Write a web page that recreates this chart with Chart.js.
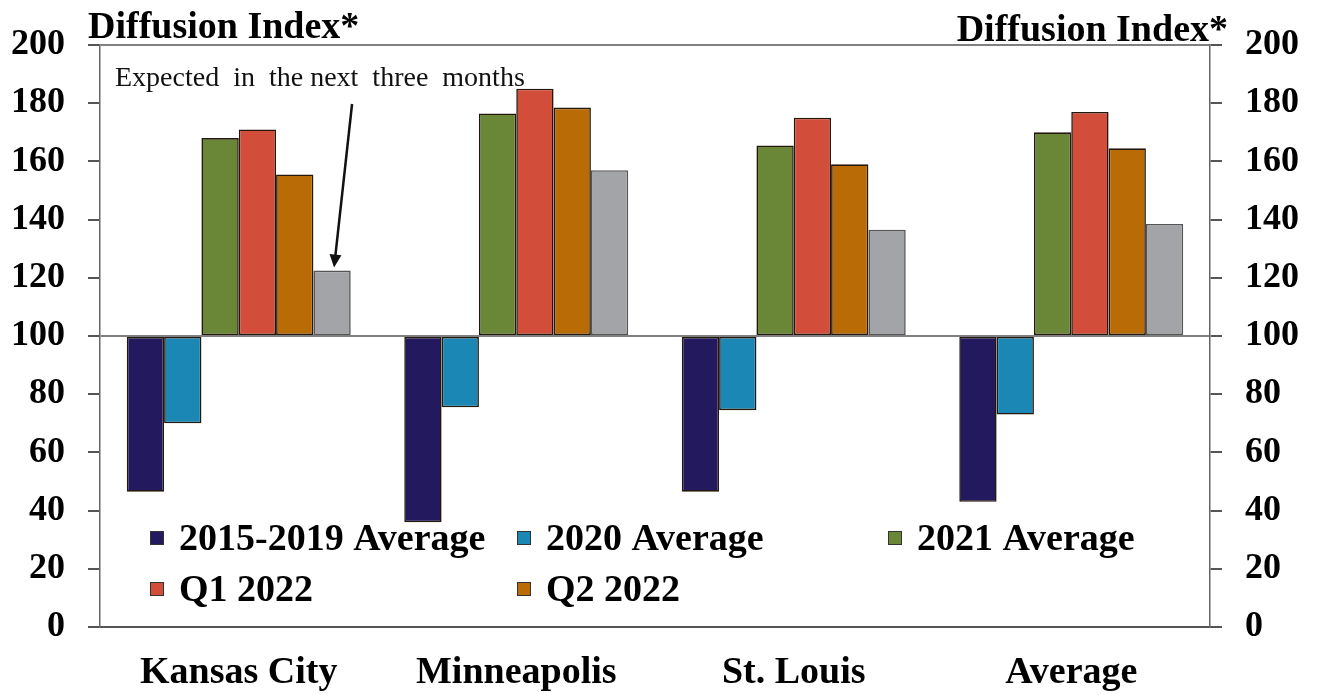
<!DOCTYPE html>
<html>
<head>
<meta charset="utf-8">
<script src="https://cdn.jsdelivr.net/npm/chart.js@4.4.1/dist/chart.umd.min.js"></script>
<style>
    html, body { margin: 0; padding: 0; background: #fff; }
    #wrap { width: 1317px; height: 695px; position: relative; }
</style>
</head>
<body>
<div id="wrap"><canvas id="diffusionChart"></canvas></div>
<script>
const regions = ["Kansas City", "Minneapolis", "St. Louis", "Average"];
const avg2015to2019 = [46.5, 36, 46.5, 43];
const avg2020 = [70, 75.5, 74.5, 73];
const avg2021 = [168, 176.5, 165.5, 170];
const q1of2022 = [171, 185, 175, 177];
const q2of2022 = [155.5, 178.5, 159, 164.5];
const expectedNext = [122.5, 157, 136.5, 138.5];
const yTicks = [0, 20, 40, 60, 80, 100, 120, 140, 160, 180, 200];

const serif = "'Liberation Serif', 'Times New Roman', serif";

function series(label, data, color, edge) {
    return {
        label: label,
        data: data,
        base: 100,
        backgroundColor: color,
        borderColor: edge || "#24180e",
        borderWidth: 1.6,
        borderSkipped: false,
        categoryPercentage: 0.807,
        barPercentage: 1.0,
    };
}

// legend in a 3-column grid inside the plot, plus titles and the arrow note
const overlay = {
    id: "overlay",
    afterDraw(chart) {
        const { ctx, chartArea: a } = chart;
        ctx.save();

        ctx.fillStyle = "#000";
        ctx.font = "bold 38px " + serif;
        ctx.textBaseline = "alphabetic";
        ctx.textAlign = "left";
        ctx.fillText("Diffusion Index*", 88, 38);
        ctx.textAlign = "right";
        ctx.fillText("Diffusion Index*", 1228, 41);

        // legend
        const cols = [a.left + 50, a.left + 417, a.left + 788];
        const rows = [538, 589];
        ctx.font = "bold 38px " + serif;
        ctx.textAlign = "left";
        ctx.textBaseline = "middle";
        chart.data.datasets.slice(0, 5).forEach((ds, i) => {
            const x = cols[i % 3];
            const y = rows[Math.floor(i / 3)];
            ctx.fillStyle = ds.backgroundColor;
            ctx.fillRect(x, y - 7, 14, 14);
            ctx.strokeStyle = "#333";
            ctx.lineWidth = 1;
            ctx.strokeRect(x + 0.5, y - 6.5, 13, 13);
            ctx.fillStyle = "#000";
            ctx.fillText(ds.label, x + 29, y + 2);
        });

        // note + arrow to the Kansas City expectation bar
        ctx.font = "28px " + serif;
        ctx.textBaseline = "alphabetic";
        ctx.fillStyle = "#111";
        ctx.fillText("Expected  in  the next  three  months", 115, 86);

        const bar = chart.getDatasetMeta(5).data[0];
        const tipX = bar.x + 2;
        const tipY = bar.y - 3;
        const fromX = bar.x + 20;
        const fromY = 104;
        const ang = Math.atan2(tipY - fromY, tipX - fromX);
        ctx.strokeStyle = "#111";
        ctx.lineWidth = 2.5;
        ctx.beginPath();
        ctx.moveTo(fromX, fromY);
        ctx.lineTo(tipX - 10 * Math.cos(ang), tipY - 10 * Math.sin(ang));
        ctx.stroke();
        ctx.beginPath();
        ctx.moveTo(tipX, tipY);
        ctx.lineTo(tipX - 13 * Math.cos(ang) + 6 * Math.sin(ang), tipY - 13 * Math.sin(ang) - 6 * Math.cos(ang));
        ctx.lineTo(tipX - 13 * Math.cos(ang) - 6 * Math.sin(ang), tipY - 13 * Math.sin(ang) + 6 * Math.cos(ang));
        ctx.closePath();
        ctx.fillStyle = "#111";
        ctx.fill();

        ctx.restore();
    },
};

const ctx = document.getElementById("diffusionChart");

new Chart(ctx, {
    type: "bar",
    data: {
        labels: regions,
        datasets: [
            series("2015-2019 Average", avg2015to2019, "#22195e"),
            series("2020 Average", avg2020, "#1b87b5"),
            series("2021 Average", avg2021, "#6a8637"),
            series("Q1 2022", q1of2022, "#d24e3b"),
            series("Q2 2022", q2of2022, "#b96c06"),
            series("Expected", expectedNext, "#a2a4a7", "#555"),
        ],
    },
    options: {
        responsive: true,
        maintainAspectRatio: false,
        animation: false,
        devicePixelRatio: 1,
        layout: { padding: { top: 45, left: 0, right: 0, bottom: 0 } },
        plugins: {
            legend: { display: false },
            tooltip: { enabled: false },
        },
        scales: {
            x: {
                grid: { color: "transparent", drawTicks: false },
                border: { color: "#555", width: 2 },
                ticks: {
                    color: "#000",
                    padding: 23,
                    font: { family: serif, size: 38, weight: "bold" },
                },
                afterFit: (s) => { s.height = 68; },
            },
            y: {
                position: "left",
                min: 0,
                max: 200,
                afterBuildTicks: (s) => { s.ticks = yTicks.map((v) => ({ value: v })); },
                grid: {
                    color: (c) => (c.tick && (c.tick.value === 100 || c.tick.value === 200) ? "#808080" : "transparent"),
                    lineWidth: 2,
                    tickColor: "#555",
                    tickLength: 12,
                },
                border: { color: "#666", width: 1.5 },
                ticks: {
                    color: "#000",
                    padding: 23,
                    font: { family: serif, size: 36, weight: "bold" },
                },
                afterFit: (s) => { s.width = 100; },
            },
            y2: {
                position: "right",
                min: 0,
                max: 200,
                afterBuildTicks: (s) => { s.ticks = yTicks.map((v) => ({ value: v })); },
                grid: { drawOnChartArea: false, tickColor: "#555", tickLength: 12, lineWidth: 2 },
                border: { color: "#666", width: 1.5 },
                ticks: {
                    color: "#000",
                    padding: 23,
                    font: { family: serif, size: 36, weight: "bold" },
                },
                afterFit: (s) => { s.width = 107; },
            },
        },
    },
    plugins: [overlay],
});
</script>
</body>
</html>
